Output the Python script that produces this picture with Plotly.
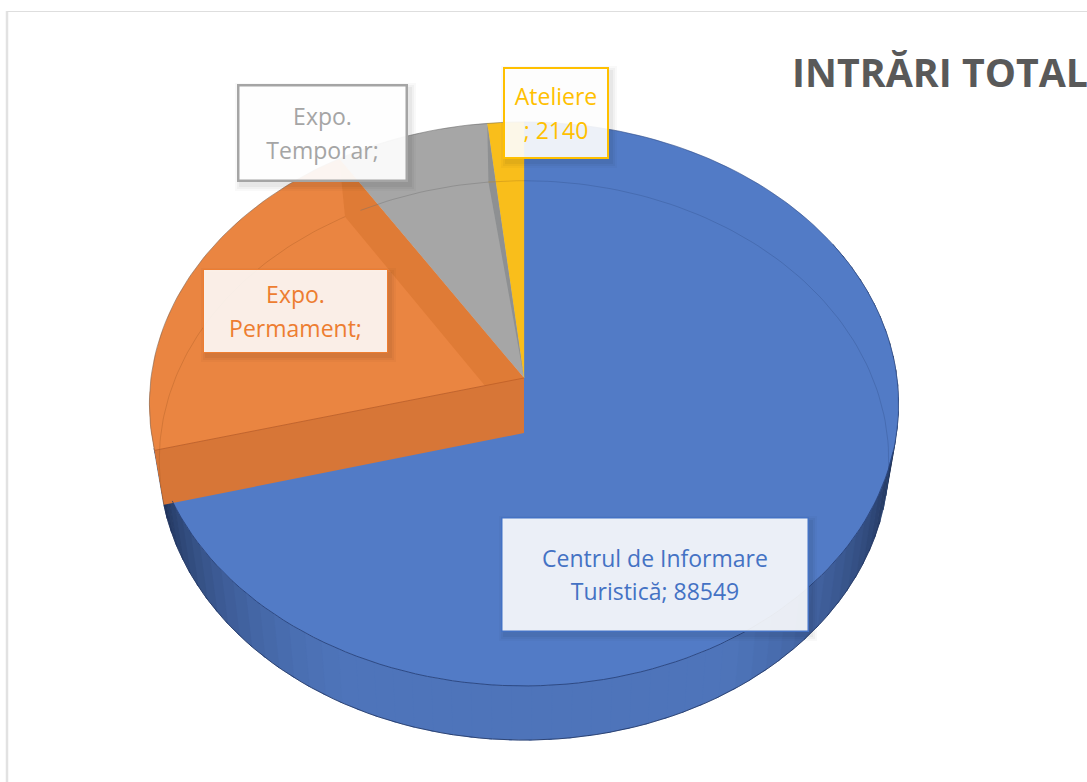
import numpy as np
import plotly.graph_objects as go

categories = ["Centrul de Informare Turistică", "Expo. Permament", "Expo. Temporar", "Ateliere"]
values = [88549, 25100, 9050, 2140]
label_text = ["Centrul de Informare<br>Turistică; 88549", "Expo.<br>Permament;", "Expo.<br>Temporar;", "Ateliere<br>; 2140"]
title_text = "INTRĂRI TOTAL"
lid_colors = ["#527BC6", "#EA8541", "#A6A6A6", "#F9BE1B"]
text_colors = ["#4472C4", "#ED7D31", "#A5A5A5", "#FFC000"]

W, H = 1087, 782
CX = 524
LID = dict(y=378, f=373, g=279.6, a=0.092)
BASE = dict(y=433, f=363, g=277, a=0.098)


def proj(theta_deg, r, p):
    t = np.radians(theta_deg)
    u, v = r * np.sin(t), r * np.cos(t)
    d = 1 + p["a"] * v
    return CX + p["f"] * u / d, p["y"] - p["g"] * v / d


def arc(t0, t1, p, n=80):
    ts = np.linspace(t0, t1, n)
    return proj(ts, 1.0, p)


def apex(p):
    return CX, p["y"]


fig = go.Figure()


def poly(xs, ys, fill, line=None, lw=0.0):
    fig.add_trace(go.Scatter(x=list(xs), y=list(ys), mode="lines", fill="toself", fillcolor=fill,
                             line=dict(color=line or fill, width=lw), hoverinfo="skip", showlegend=False))


def curve(xs, ys, color, lw=1.0):
    fig.add_trace(go.Scatter(x=list(xs), y=list(ys), mode="lines", line=dict(color=color, width=lw),
                             hoverinfo="skip", showlegend=False))


total = sum(values)
edges = np.concatenate([[0.0], np.cumsum(values) / total * 360.0])
blue_end = edges[1]


def lerp(c0, c1, k):
    return "rgb(%d,%d,%d)" % tuple(round(a + (b - a) * k) for a, b in zip(c0, c1))


# outer wall of the large slice, shaded toward its two ends
mid = (78, 116, 186)
dark = (30, 48, 84)
seg = np.linspace(60, blue_end, 70)
for s0, s1 in zip(seg[:-1], seg[1:]):
    m = (s0 + s1) / 2
    if m < 150:
        k = np.clip((150 - m) / 48, 0, 1) ** 1.3
    elif m > 205:
        k = np.clip((m - 205) / (blue_end - 205), 0, 1) ** 1.5
    else:
        k = 0
    c = lerp(mid, dark, k)
    lx, ly = arc(s0, s1 + 0.4, LID, 5)
    bx, by = arc(s0, s1 + 0.4, BASE, 5)
    poly(np.r_[lx, bx[::-1], lx[0]], np.r_[ly, by[::-1], ly[0]], c, c, 0.6)

# orange sliver behind the large slice end
ox, oy = arc(blue_end, blue_end + 12, LID, 12)
bx, by = proj(blue_end, 1.0, BASE)
poly(np.r_[ox, bx, ox[0]], np.r_[oy, by, oy[0]], "#DD7A38")

# top faces
for i in range(4):
    xs, ys = arc(edges[i], edges[i + 1], LID)
    ax, ay = apex(LID)
    poly(np.r_[ax, xs, ax], np.r_[ay, ys, ay], lid_colors[i], lid_colors[i], 0.3)

# interior wall of the orange slice (back side)
lx, ly = proj(edges[2], 1.0, LID)
bx, by = proj(edges[2], 1.0, BASE)
poly([CX, lx, bx, CX, CX], [LID["y"], ly, by, BASE["y"], LID["y"]], "#DF7B36")

# thin sliver of the grey slice wall
lx, ly = proj(edges[3], 1.0, LID)
bx, by = proj(edges[3], 1.0, BASE)
poly([CX, lx, bx, CX], [LID["y"], ly, by, LID["y"]], "#8E9092")

# orange front wall
lx, ly = proj(edges[1], 1.0, LID)
bx, by = proj(edges[1], 1.0, BASE)
poly([CX, lx, bx, CX, CX], [LID["y"], ly, by, BASE["y"], LID["y"]], "#D77637")
curve([CX, lx], [LID["y"], ly], "#C4642A", 1.0)

# faint rim lines
xs, ys = arc(0, 108, BASE)
curve(xs, ys, "rgba(50,80,140,0.45)", 0.8)
xs, ys = arc(edges[1], edges[2], BASE)
curve(xs, ys, "rgba(150,80,30,0.35)", 0.8)
xs, ys = arc(edges[2] + 3, edges[3], BASE, 20)
curve(xs, ys, "rgba(110,110,110,0.5)", 0.8)
xs, ys = arc(edges[3], 360, BASE, 10)
curve(xs, ys, "rgba(190,140,30,0.6)", 0.8)
xs, ys = arc(105, 245, LID)
curve(xs, ys, "rgba(35,60,115,0.8)", 1.0)
# silhouette edge
xs, ys = arc(edges[1], 360, LID)
curve(xs, ys, "rgba(90,90,90,0.55)", 0.8)
xs, ys = arc(108, edges[1], BASE)
curve(xs, ys, "rgba(30,50,95,0.8)", 1.0)
xs, ys = arc(0, 108, LID)
curve(xs, ys, "rgba(40,65,120,0.6)", 0.8)

boxes = [
    (501, 809, 517, 632, 1.5, 0.89),
    (203, 388, 269, 353, 1, 0.88),
    (237, 408, 84, 182, 2.5, 0.93),
    (503, 609, 67, 159, 2, 0.90),
]
shapes = [
    dict(type="line", xref="x", yref="y", x0=7, x1=7, y0=11, y1=H, line=dict(color="#E2E2E2", width=2.5), layer="below"),
    dict(type="line", xref="x", yref="y", x0=7, x1=W, y0=11.5, y1=11.5, line=dict(color="#DEDEDE", width=1.2), layer="below"),
]
annotations = []
for i, (x0, x1, y0, y1, bw, op) in enumerate(boxes):
    for off, alpha in ((5, 0.025), (3, 0.03), (1, 0.04)):
        shapes.append(dict(type="rect", xref="x", yref="y", x0=x0 - off + 3, x1=x1 + off + 3, y0=y0 - off + 4,
                           y1=y1 + off + 4, line=dict(width=0), fillcolor="rgba(0,0,0,%.3f)" % alpha, layer="above"))
    annotations.append(dict(x=(x0 + x1) / 2, y=(y0 + y1) / 2, xref="x", yref="y",
                            text='<span style="font-size:23px">%s</span>' % label_text[i].replace(
                                "<br>", '</span><br><span style="font-size:23px">'),
                            showarrow=False, width=x1 - x0 - 2 * bw, height=y1 - y0 - 2 * bw, align="center",
                            valign="middle", bgcolor="rgba(255,255,255,%.2f)" % op, bordercolor=text_colors[i],
                            borderwidth=bw, borderpad=0, font=dict(family="Open Sans", size=25.4, color=text_colors[i]),
                            xanchor="center", yanchor="middle"))

fig.update_layout(
    width=W, height=H, margin=dict(l=0, r=0, t=0, b=0), paper_bgcolor="white", plot_bgcolor="white",
    showlegend=False, shapes=shapes, annotations=annotations,
    title=dict(text="<b>%s</b>" % title_text, x=792 / W, xanchor="left", xref="paper", y=1 - 73 / H, yref="container",
               yanchor="middle", pad=dict(l=0, r=0, t=0, b=0), font=dict(family="Open Sans", size=39.3, color="#595959")),
    xaxis=dict(range=[0, W], visible=False, fixedrange=True),
    yaxis=dict(range=[H, 0], visible=False, fixedrange=True),
)
fig.write_html("out.html", post_script="document.body.style.margin='0';", config=dict(displayModeBar=False))
